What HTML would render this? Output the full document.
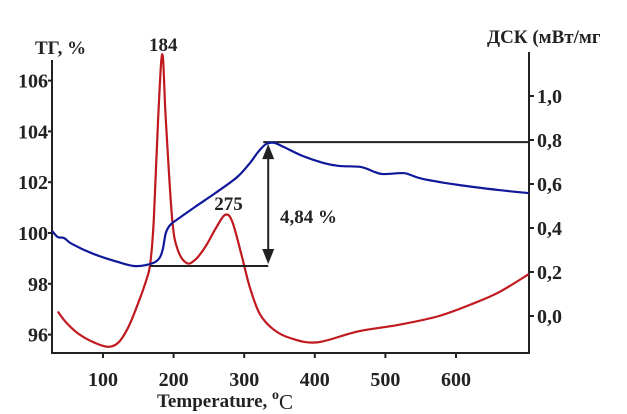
<!DOCTYPE html>
<html><head><meta charset="utf-8"><style>
html,body{margin:0;padding:0;background:#fff;}
svg{display:block;font-family:"Liberation Serif","Noto Serif CJK SC",serif;font-weight:bold;}
</style></head><body>
<svg id="chart" width="627" height="414" viewBox="0 0 627 414">
<g id="axes"></g><g id="plot"></g>
</svg>
<script>
const xTicks=[100,200,300,400,500,600];
const tgTicks=[96,98,100,102,104,106];
const dscTicks=[0.0,0.2,0.4,0.6,0.8,1.0];
const dscTickLabels=["0,0","0,2","0,4","0,6","0,8","1,0"];
const tgTemp=[28,36,45,56,87,121,144,161,174,181,185,189,195,206,230,259,290,308,320,331,342,355,383,412,434,465,485,497,525,536,553,604,661,703];
const tgValues=[100.08,99.84,99.8,99.57,99.17,98.86,98.7,98.74,98.86,99.06,99.4,100.0,100.31,100.55,101.02,101.57,102.2,102.75,103.2,103.5,103.55,103.4,103.03,102.76,102.64,102.6,102.4,102.32,102.36,102.28,102.13,101.89,101.69,101.57];
const dscTemp=[36,48,65,87,107,122,136,150,161,167,172,178,184,189,198,206,219,232,246,260,273,283,296,308,322,341,365,403,461,519,576,627,662,703];
const dscValues=[0.02,-0.03,-0.08,-0.12,-0.14,-0.12,-0.05,0.06,0.16,0.24,0.44,0.89,1.19,0.89,0.44,0.30,0.24,0.26,0.32,0.40,0.46,0.43,0.28,0.13,0.01,-0.06,-0.10,-0.12,-0.07,-0.04,0.0,0.06,0.11,0.19];
const peakLabels=[{t:184,text:"184"},{t:275,text:"275"}];
const massLoss=4.84;
const tgLow=98.7, tgHigh=103.58, lowStart=167, lossT=334;

const X=t=>103+(t-100)*0.706;
const YT=v=>233-(v-100)*25.4;
const YD=d=>316-d*220;
const NS="http://www.w3.org/2000/svg";
const axes=document.getElementById('axes'), plot=document.getElementById('plot');
function mk(tag,attrs,parent,txt){const e=document.createElementNS(NS,tag);for(const k in attrs)e.setAttribute(k,attrs[k]);if(txt!==undefined)e.textContent=txt;parent.appendChild(e);return e;}
function smooth(pts){let d=`M${pts[0][0]},${pts[0][1]}`;for(let i=0;i<pts.length-1;i++){const p0=pts[i-1]||pts[i],p1=pts[i],p2=pts[i+1],p3=pts[i+2]||p2;const k=6;d+=` C${p1[0]+(p2[0]-p0[0])/k},${p1[1]+(p2[1]-p0[1])/k} ${p2[0]-(p3[0]-p1[0])/k},${p2[1]-(p3[1]-p1[1])/k} ${p2[0]},${p2[1]}`;}return d;}

let e;
e=mk('path',{d:'M52,60 V353 H529 V52',fill:'none',stroke:'#222','stroke-width':2},axes);


xTicks.forEach(t=>{
  e=mk('line',{x1:X(t),x2:X(t),y1:353,y2:358,stroke:'#222','stroke-width':2},axes);
  
  
  e=mk('text',{x:X(t),y:386,'text-anchor':'middle','font-size':20,fill:'#222'},axes,String(t));
  
  
});
tgTicks.forEach(v=>{
  e=mk('line',{x1:48,x2:52,y1:YT(v),y2:YT(v),stroke:'#222','stroke-width':2},axes);
  
  
  e=mk('text',{x:48,y:YT(v)+7,'text-anchor':'end','font-size':20,fill:'#222'},axes,String(v));
  
  
});
dscTicks.forEach((d,i)=>{
  e=mk('line',{x1:529,x2:534,y1:YD(d),y2:YD(d),stroke:'#222','stroke-width':2},axes);
  
  
  e=mk('text',{x:537,y:YD(d)+7,'font-size':20,fill:'#222'},axes,dscTickLabels[i]);
  
  
});
e=mk('text',{x:35,y:54,'font-size':19,fill:'#222'},axes,'ТГ, %');


e=mk('text',{x:487,y:43,'font-size':19,fill:'#222'},axes,'ДСК (мВт/мг');


e=mk('text',{x:157,y:407,'font-size':19,fill:'#222'},axes,'Temperature, ');


mk('tspan',{'font-size':14,dy:-8},e,'o');
mk('tspan',{'font-size':21,dy:10,'font-weight':'normal'},e,'C');

e=mk('path',{d:smooth(dscTemp.map((t,i)=>[X(t),YD(dscValues[i])])),fill:'none',stroke:'#c0191e','stroke-width':2.2},plot);


e=mk('line',{x1:X(lowStart),x2:X(lossT),y1:YT(tgLow),y2:YT(tgLow),stroke:'#222','stroke-width':2},plot);


e=mk('line',{x1:X(327),x2:529,y1:YT(tgHigh),y2:YT(tgHigh),stroke:'#222','stroke-width':2},plot);


e=mk('path',{d:smooth(tgTemp.map((t,i)=>[X(t),YT(tgValues[i])])),fill:'none',stroke:'#10189a','stroke-width':2.2},plot);


const ax=X(lossT), ay1=YT(tgHigh)+2, ay2=YT(tgLow)-2;
e=mk('line',{x1:ax,x2:ax,y1:ay1+10,y2:ay2-10,stroke:'#222','stroke-width':2},plot);


e=mk('path',{d:`M${ax},${ay1} L${ax-6},${ay1+15} L${ax+6},${ay1+15}Z M${ax},${ay2} L${ax-6},${ay2-15} L${ax+6},${ay2-15}Z`,fill:'#222'},plot);


e=mk('text',{x:280,y:223,'font-size':19,fill:'#222'},plot,massLoss.toFixed(2).replace('.',',')+' %');


e=mk('text',{x:X(peakLabels[0].t)+1,y:51,'text-anchor':'middle','font-size':19,fill:'#222'},plot,peakLabels[0].text);


e=mk('text',{x:X(peakLabels[1].t)+2,y:210,'text-anchor':'middle','font-size':19,fill:'#222'},plot,peakLabels[1].text);


</script>
</body></html>
